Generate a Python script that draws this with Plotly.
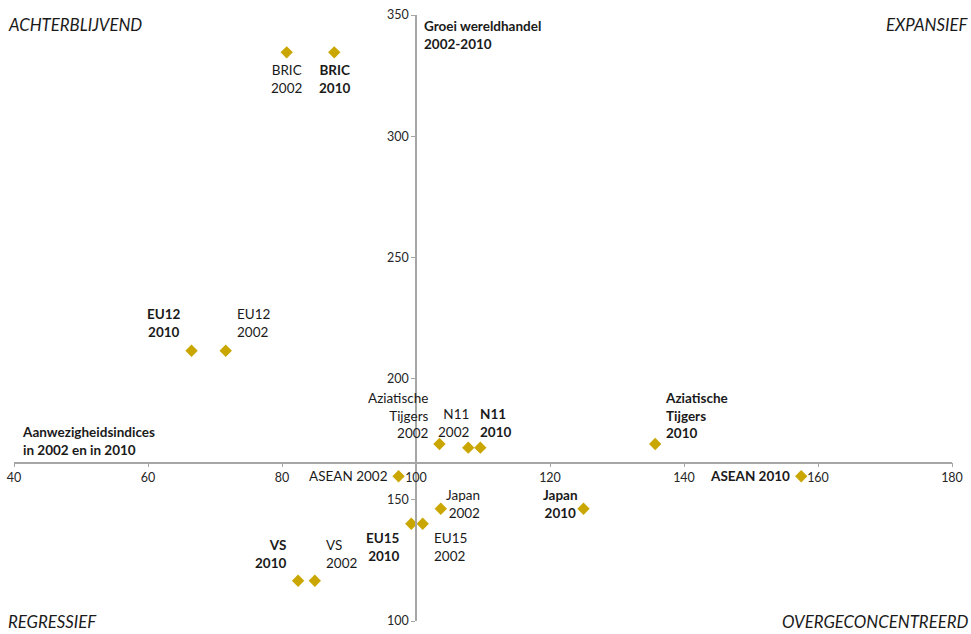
import plotly.graph_objects as go

# Presence indices per region in 2002 and 2010, and trade growth 2002-2010
regions = ["BRIC", "EU12", "Aziatische Tijgers", "N11", "ASEAN", "Japan", "EU15", "VS"]
label_names = ["BRIC", "EU12", "Aziatische<br>Tijgers", "N11", "ASEAN", "Japan", "EU15", "VS"]
label_sep = ["<br>", "<br>", "<br>", "<br>", " ", "<br>", "<br>", "<br>"]
index_2002 = [80.7, 71.6, 103.5, 107.8, 97.4, 103.7, 101.0, 84.9]
index_2010 = [87.8, 66.5, 135.7, 109.6, 157.5, 125.0, 99.3, 82.4]
growth = [334.6, 211.5, 173.0, 171.5, 159.7, 146.3, 140.1, 116.6]
world_growth = 165.3

x_ticks = [40, 60, 80, 100, 120, 140, 160, 180]
y_ticks = [100, 150, 200, 250, 300, 350]

GOLD = "#C9A600"
FONT = "Lato"
TXT = "#1a1a1a"
LABEL_SIZE = 13.5

# label placement per point: (xanchor, yanchor, xshift, yshift, align)
place_2002 = [
    ("center", "top", 0, -8, "center"),
    ("left", "bottom", 9, 9, "left"),
    ("right", "bottom", -8, 1, "right"),
    ("right", "bottom", 3, 6, "right"),
    ("right", "middle", -9, 0, "right"),
    ("left", "middle", 3, 5, "right"),
    ("left", "top", 9, -4, "left"),
    ("left", "bottom", 9, 8, "left"),
]
place_2010 = [
    ("center", "top", 0, -8, "center"),
    ("right", "bottom", -9, 9, "center"),
    ("left", "bottom", 8, 1, "left"),
    ("left", "bottom", -2, 6, "left"),
    ("right", "middle", -9, 0, "right"),
    ("right", "middle", -4, 5, "center"),
    ("right", "top", -9, -4, "right"),
    ("right", "bottom", -10, 8, "right"),
]

fig = go.Figure()
fig.add_trace(go.Scatter(
    x=index_2002 + index_2010,
    y=growth + growth,
    mode="markers",
    marker=dict(symbol="diamond", size=9.5, color=GOLD, line=dict(width=0)),
    hovertext=[f"{r} 2002" for r in regions] + [f"{r} 2010" for r in regions],
    hoverinfo="text+x+y",
    showlegend=False,
))

annotations = []
for i in range(len(regions)):
    for year, xs, pl, bold in (("2002", index_2002, place_2002, False),
                               ("2010", index_2010, place_2010, True)):
        txt = label_names[i] + label_sep[i] + year
        if bold:
            txt = "<b>" + txt + "</b>"
        xa, ya, xsh, ysh, al = pl[i]
        annotations.append(dict(
            x=xs[i], y=growth[i], xref="x", yref="y", text=txt,
            showarrow=False, xanchor=xa, yanchor=ya, xshift=xsh, yshift=ysh,
            align=al, font=dict(family=FONT, size=LABEL_SIZE, color=TXT),
        ))

# explanatory labels
annotations.append(dict(
    x=100, y=350, xref="x", yref="y", text="<b>Groei wereldhandel<br>2002-2010</b>",
    showarrow=False, xanchor="left", yanchor="top", xshift=6, yshift=-1, align="left",
    font=dict(family=FONT, size=LABEL_SIZE, color=TXT),
))
annotations.append(dict(
    x=40, y=world_growth, xref="x", yref="y",
    text="<b>Aanwezigheidsindices<br>in 2002 en in 2010</b>",
    showarrow=False, xanchor="left", yanchor="bottom", xshift=6, yshift=3, align="left",
    font=dict(family=FONT, size=LABEL_SIZE, color=TXT),
))

# quadrant names
corner_font = dict(family=FONT, size=16.8, color=TXT)
for txt, x, y, xa, ya in (("ACHTERBLIJVEND", 0, 1, "left", "middle"),
                          ("EXPANSIEF", 1, 1, "right", "middle"),
                          ("REGRESSIEF", 0, 0, "left", "bottom"),
                          ("OVERGECONCENTREERD", 1, 0, "right", "bottom")):
    annotations.append(dict(
        x=x, y=y, xref="paper", yref="paper", text=f"<i>{txt}</i>",
        showarrow=False, xanchor=xa, yanchor=ya,
        xshift=-8 if xa == "left" else 18, yshift=-9 if y == 1 else -13,
        font=corner_font,
    ))

axis_common = dict(
    showgrid=False, zeroline=False, showline=True, linecolor="#A6A6A6", linewidth=1.5,
    ticks="outside", ticklen=4, tickwidth=1, tickcolor="#A6A6A6",
    tickfont=dict(family=FONT, size=12.5, color="#262626"),
    fixedrange=True, automargin=False,
)

fig.update_layout(
    width=971, height=634,
    margin=dict(l=14, r=19, t=15, b=13),
    paper_bgcolor="white", plot_bgcolor="white",
    xaxis=dict(range=[40, 180], tickvals=x_ticks, anchor="free",
               position=(world_growth - 100) / 250, **axis_common),
    yaxis=dict(range=[100, 350], tickvals=y_ticks, anchor="free",
               position=(100 - 40) / 140, **axis_common),
    annotations=annotations,
    showlegend=False,
)

fig.write_html("out.html")
